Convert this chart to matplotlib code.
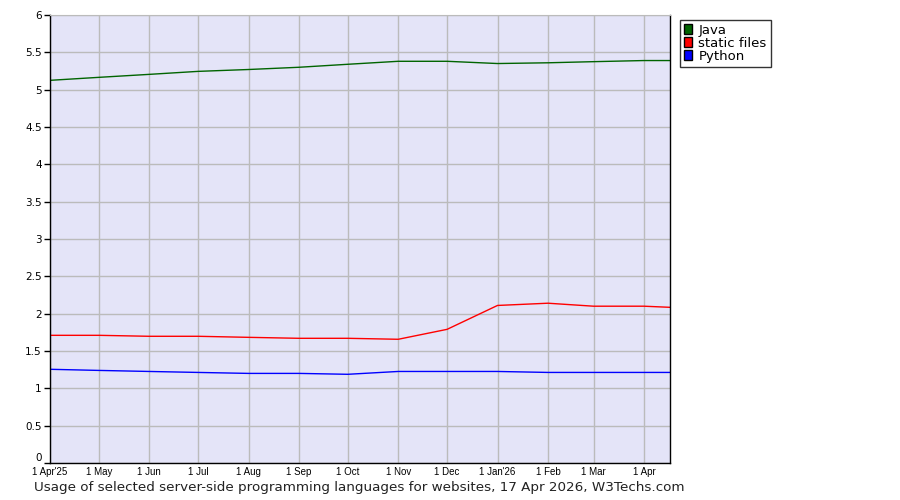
import datetime as dt
import matplotlib
matplotlib.use("Agg")
import matplotlib.pyplot as plt
import matplotlib.dates as mdates
from matplotlib.patches import Patch

# monthly samples, last point is the report date
dates = [dt.date(2025, m, 1) for m in range(4, 13)] + \
        [dt.date(2026, m, 1) for m in range(1, 5)] + [dt.date(2026, 4, 17)]

java = [5.125, 5.165, 5.205, 5.245, 5.27, 5.30, 5.34, 5.38, 5.38, 5.35, 5.36, 5.375, 5.39, 5.39]
static_files = [1.71, 1.71, 1.697, 1.697, 1.683, 1.67, 1.67, 1.657, 1.79, 2.11, 2.14, 2.10, 2.10, 2.085]
python = [1.255, 1.24, 1.226, 1.213, 1.20, 1.20, 1.188, 1.226, 1.226, 1.226, 1.213, 1.213, 1.213, 1.213]

tick_dates = dates[:-1]
tick_labels = ["1 Apr'25", "1 May", "1 Jun", "1 Jul", "1 Aug", "1 Sep", "1 Oct",
               "1 Nov", "1 Dec", "1 Jan'26", "1 Feb", "1 Mar", "1 Apr"]
y_ticks = [0, 0.5, 1, 1.5, 2, 2.5, 3, 3.5, 4, 4.5, 5, 5.5, 6]
y_labels = ["0", "0.5", "1", "1.5", "2", "2.5", "3", "3.5", "4", "4.5", "5", "5.5", "6"]

fig = plt.figure(figsize=(9, 5), dpi=100)
ax = fig.add_axes([50 / 900, 37 / 500, 620 / 900, 448 / 500])
ax.set_facecolor("#e4e4f8")

ax.plot(dates, java, color="#006400", lw=1)
ax.plot(dates, static_files, color="#ff0000", lw=1)
ax.plot(dates, python, color="#0000ff", lw=1)

ax.set_xlim(dates[0], dates[-1])
ax.set_ylim(0, 6)
ax.set_xticks([mdates.date2num(d) for d in tick_dates])
ax.set_xticklabels(tick_labels, fontsize=7, family="Liberation Sans")
ax.set_yticks(y_ticks)
ax.set_yticklabels(y_labels, fontsize=7.5)
ax.get_yticklabels()[0].set_va("bottom")
ax.grid(True, color="#bbbbbb", lw=1)
ax.set_axisbelow(True)

ax.tick_params(axis="x", length=0, pad=3)
ax.tick_params(axis="y", length=4, width=1, pad=2, color="black")
for side in ["left", "bottom", "right"]:
    ax.spines[side].set_color("black")
    ax.spines[side].set_linewidth(1)
ax.spines["top"].set_color("#bbbbbb")

handles = [Patch(facecolor="#006400", edgecolor="black", label="Java"),
           Patch(facecolor="#ff0000", edgecolor="black", label="static files"),
           Patch(facecolor="#0000ff", edgecolor="black", label="Python")]
leg = fig.legend(handles=handles, loc="upper left", bbox_to_anchor=(680 / 900, 1 - 20 / 500),
                 fontsize=9.5, frameon=True, fancybox=False, handlelength=0.6, handleheight=0.8,
                 handletextpad=0.5, labelspacing=0.0, borderpad=0.3, borderaxespad=0)
leg.get_frame().set_edgecolor("black")
leg.get_frame().set_linewidth(1)

fig.text(34 / 900, 1 - 488 / 500, "Usage of selected server-side programming languages for websites, 17 Apr 2026, W3Techs.com",
         fontsize=9.7, va="center", ha="left", color="#222222")

fig.savefig("out.png", dpi=100)
